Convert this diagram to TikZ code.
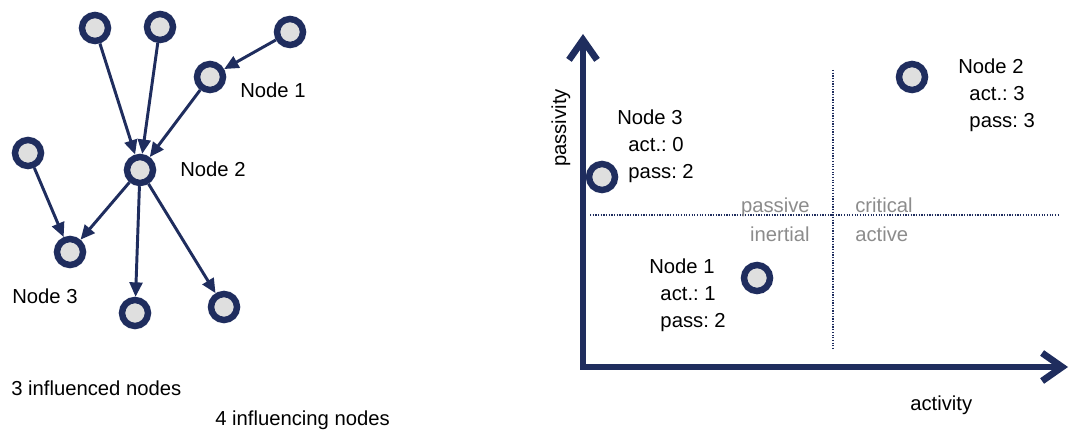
\documentclass[tikz,border=0pt]{standalone}
\usepackage{fontspec}
\setmainfont{Liberation Sans}
\usetikzlibrary{arrows.meta}
\definecolor{navy}{RGB}{31,45,94}
\definecolor{quadgray}{RGB}{140,140,140}
\frenchspacing
\tikzset{vertex/.style = {circle, draw=navy, fill=gray!25, line width=4.6pt,
    minimum size=0.65cm, inner sep=0pt},
  infl/.style = {navy, line width=2.1pt, -{Triangle[length=0.36cm, width=0.32cm]}},
  txt/.style = {font=\fontsize{14.4}{19.2}\selectfont, inner sep=0pt, align=left},
  quad/.style = {txt, text=quadgray},
  axis/.style = {navy, line width=4.8pt, line join=miter,
    {Straight Barb[length=0.5cm, width=0.7cm]}-{Straight Barb[length=0.5cm, width=0.7cm]}},
  divider/.style = {navy, densely dotted, line width=0.9pt}}
\newcommand{\ind}{\hspace*{0.28cm}}

\begin{document}
\begin{tikzpicture}[x=0.025cm, y=-0.025cm]
      \useasboundingbox (0,0) rectangle (1072,439);
      % influence graph
      \node[vertex] (na) at (95,28) {};
      \node[vertex] (nb) at (160,27) {};
      \node[vertex] (nc) at (290,32) {};
      \node[vertex] (n1) at (210,77) {};
      \node[vertex] (nd) at (28,153) {};
      \node[vertex] (n2) at (140,170) {};
      \node[vertex] (n3) at (70,252) {};
      \node[vertex] (ne) at (135,313) {};
      \node[vertex] (nf) at (224,307) {};
      \draw[infl] (na) -- (n2);
      \draw[infl] (nb) -- (n2);
      \draw[infl] (nc) -- (n1);
      \draw[infl] (n1) -- (n2);
      \draw[infl] (nd) -- (n3);
      \draw[infl] (n2) -- (n3);
      \draw[infl] (n2) -- (ne);
      \draw[infl] (n2) -- (nf);
      \node[txt, anchor=base west] (l1) at (240,98) {Node 1};
      \node[txt, anchor=base west] (l2) at (180,177) {Node 2};
      \node[txt, anchor=base west] (l3) at (12,303) {Node 3};
      \node[txt, anchor=base west] (infd) at (11,395) {3 influenced nodes};
      \node[txt, anchor=base west] (infg) at (215,425) {4 influencing nodes};
      % activity / passivity chart
      \coordinate (ytip) at (583,34);
      \coordinate (orig) at (583,367);
      \coordinate (xtip) at (1068,367);
      \draw[divider] (590,215) -- (1060,215);
      \draw[divider] (833,70) -- (833,350);
      \draw[axis] (ytip) -- (orig) -- (xtip);
      \node[txt, rotate=90] (py) at (561,128) {passivity};
      \node[txt, anchor=base west] (ax) at (910,410) {activity};
      \node[quad, anchor=base east] (qp) at (810,212) {passive};
      \node[quad, anchor=base west] (qc) at (855,212) {critical};
      \node[quad, anchor=base east] (qi) at (810,242) {inertial};
      \node[quad, anchor=base west] (qa) at (855,242) {active};
      \node[vertex] (c3) at (602,177) {};
      \node[vertex] (c2) at (912,77) {};
      \node[vertex] (c1) at (757,278) {};
      \node[txt, anchor=north west] (t3) at (617,110) {Node 3\\\ind act.: 0\\\ind pass: 2};
      \node[txt, anchor=north west] (t2) at (958,59) {Node 2\\\ind act.: 3\\\ind pass: 3};
      \node[txt, anchor=north west] (t1) at (649,259) {Node 1\\\ind act.: 1\\\ind pass: 2};
    \end{tikzpicture}
\end{document}
